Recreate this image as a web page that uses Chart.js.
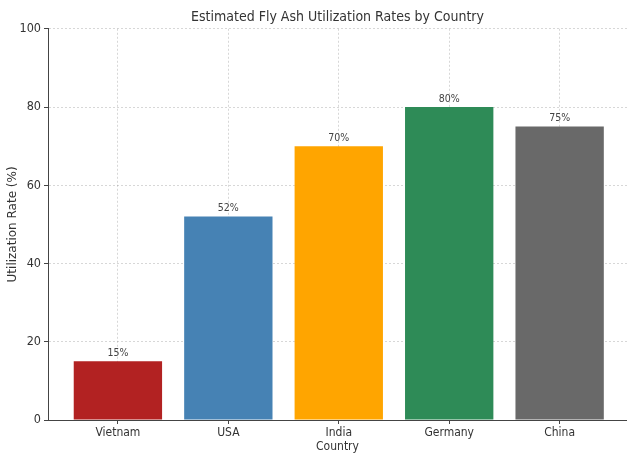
<!DOCTYPE html>
<html>
<head>
<meta charset="utf-8">
<script src="https://cdn.jsdelivr.net/npm/chart.js@4/dist/chart.umd.min.js"></script>
<style>
  html, body { margin: 0; padding: 0; background: #fff; }
  #wrap { width: 627px; height: 454px; position: relative; }
</style>
</head>
<body>
<div id="wrap"><canvas id="chart"></canvas></div>
<script>
const countries = ['Vietnam', 'USA', 'India', 'Germany', 'China'];
const rates = [15, 52, 70, 80, 75];
const barColors = ['#b22222', '#4682b4', '#ffa500', '#2e8b57', '#696969'];
const yTicks = [0, 20, 40, 60, 80, 100];

const FONT = "'DejaVu Sans Condensed', 'DejaVu Sans', sans-serif";
const gridColor = 'rgba(140,140,140,0.35)';
const axisColor = '#444';

// draws "15%" etc above each bar
const valueLabels = {
  id: 'valueLabels',
  afterDatasetsDraw(chart) {
    const ctx = chart.ctx;
    const meta = chart.getDatasetMeta(0);
    ctx.save();
    ctx.font = '10.5px ' + FONT;
    ctx.fillStyle = '#444';
    ctx.textAlign = 'center';
    ctx.textBaseline = 'bottom';
    meta.data.forEach((bar, i) => {
      ctx.fillText(rates[i] + '%', bar.x, bar.y - 3);
    });
    ctx.restore();
  }
};

const ctx = document.getElementById('chart').getContext('2d');
const chart = new Chart(ctx, {
  type: 'bar',
  data: {
    datasets: [{
      label: 'Utilization Rate',
      data: rates.map((v, i) => ({ x: i, y: v })),
      backgroundColor: barColors,
      borderWidth: 0,
      barPercentage: 0.8,
      categoryPercentage: 1.0
    }]
  },
  options: {
    responsive: true,
    maintainAspectRatio: false,
    animation: false,
    layout: { padding: { left: 0, right: 0, top: 0, bottom: 0 } },
    plugins: {
      legend: { display: false },
      tooltip: { enabled: false },
      title: {
        display: true,
        text: 'Estimated Fly Ash Utilization Rates by Country',
        color: '#333',
        fullSize: false,
        font: { family: FONT, size: 14, weight: 'normal' },
        padding: { top: 9, bottom: 3 }
      }
    },
    scales: {
      x: {
        type: 'linear',
        min: -0.633,
        max: 4.61,
        offset: false,
        z: 1,
        afterFit(scale) { scale.height = 34; },
        afterBuildTicks(scale) {
          scale.ticks = countries.map((c, i) => ({ value: i }));
        },
        ticks: {
          callback: (v) => countries[v] || '',
          color: '#333',
          font: { family: FONT, size: 12 },
          padding: 2,
          maxRotation: 0,
          autoSkip: false
        },
        grid: {
          offset: false,
          color: gridColor,
          tickColor: axisColor,
          tickLength: 4
        },
        border: { display: true, color: axisColor, width: 1, dash: [2, 2] },
        title: {
          display: true,
          text: 'Country',
          color: '#333',
          font: { family: FONT, size: 12 },
          padding: { top: 0, bottom: 0 }
        }
      },
      y: {
        min: 0,
        max: 100,
        z: 1,
        afterFit(scale) { scale.width = 48; },
        afterBuildTicks(scale) {
          scale.ticks = yTicks.map(v => ({ value: v }));
        },
        ticks: {
          color: '#333',
          font: { family: FONT, size: 12.5 },
          padding: 3
        },
        grid: {
          color: gridColor,
          tickColor: axisColor,
          tickLength: 4
        },
        border: { display: true, color: axisColor, width: 1, dash: [2, 2] },
        title: {
          display: true,
          text: 'Utilization Rate (%)',
          color: '#333',
          font: { family: "'DejaVu Sans', sans-serif", size: 12 },
          padding: { top: 6, bottom: 0 }
        }
      }
    }
  },
  plugins: [valueLabels]
});
</script>
</body>
</html>
